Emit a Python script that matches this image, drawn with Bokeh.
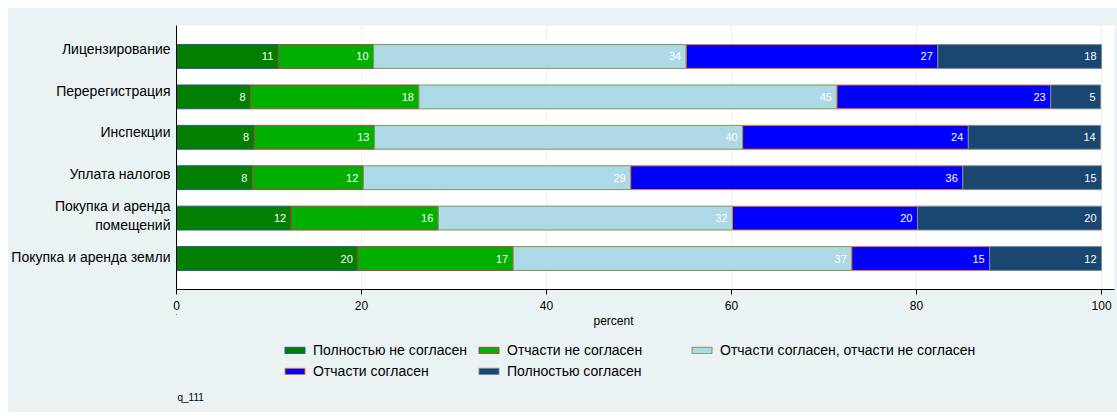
from bokeh.plotting import figure
from bokeh.layouts import column
from bokeh.models import Range1d, FixedTicker, Legend, LegendItem, ColumnDataSource, LinearAxis
from bokeh.core.properties import value
from bokeh.embed import file_html
from bokeh.resources import INLINE

categories = ["Лицензирование", "Перерегистрация", "Инспекции", "Уплата налогов",
              "Покупка и аренда\nпомещений", "Покупка и аренда земли"]
series_names = ["Полностью не согласен", "Отчасти не согласен",
                "Отчасти согласен, отчасти не согласен", "Отчасти согласен", "Полностью согласен"]
s1 = [11.0, 8.0, 8.4, 8.2, 12.4, 19.6]
s2 = [10.3, 18.2, 13.0, 12.0, 15.9, 16.8]
s3 = [33.8, 45.2, 39.8, 28.9, 31.8, 36.6]
s4 = [27.2, 23.1, 24.4, 35.9, 20.0, 14.9]
s5 = [17.7, 5.4, 14.3, 15.0, 19.9, 12.1]
x_ticks = [0, 20, 40, 60, 80, 100]
x_title = "percent"
note = "q_111"

series = [s1, s2, s3, s4, s5]
fills = ["#007f00", "#00b000", "#add8e6", "#0000ff", "#1a476f"]
lines = ["#2a5a80", "#b04040", "#7a9a50", "#e8801a", "#7a8a96"]

FONT = "Liberation Sans"
BG = "#eaf2f3"
FW, BL, BR = 938, 168, 3

# ---------------- main chart ----------------
p = figure(frame_width=FW, frame_height=264, x_range=Range1d(0, 101.4), y_range=Range1d(6.767, 0.233),
           output_backend="svg", toolbar_location=None,
           min_border_left=BL, min_border_right=BR, min_border_top=17, min_border_bottom=25,
           background_fill_color="white", border_fill_color=BG)
p.outline_line_color = None
# category labels sit on a slightly wider spacing than the bars (as in the original)
p.extra_y_ranges = {"lab": Range1d(6.783, 0.422)}

ypos = list(range(1, len(categories) + 1))
left = [0.0] * len(categories)
for vals, fc, lc in zip(series, fills, lines):
    right = [l + v for l, v in zip(left, vals)]
    src = ColumnDataSource(dict(y=ypos, left=left, right=right,
                                lab=[str(round(v)) for v in vals]))
    p.hbar(y="y", left="left", right="right", height=0.59, source=src,
           fill_color=fc, line_color=lc, line_width=1)
    p.text(x="right", y="y", text="lab", source=src, x_offset=-5,
           text_align="right", text_baseline="middle", text_color="white",
           text_font=value(FONT), text_font_size="11px")
    left = right

p.xaxis.ticker = FixedTicker(ticks=x_ticks)
p.xaxis.axis_line_color = "black"
p.xaxis.major_tick_out = 5
p.xaxis.major_tick_in = 0
p.xaxis.major_tick_line_color = "black"
p.xaxis.minor_tick_line_color = None
p.xaxis.major_label_text_font = FONT
p.xaxis.major_label_text_font_size = "12px"
p.xaxis.major_label_text_color = "black"
p.xaxis.major_label_standoff = 6

p.yaxis.visible = False
yax = LinearAxis(y_range_name="lab", ticker=FixedTicker(ticks=ypos),
                 major_label_overrides={i: c for i, c in zip(ypos, categories)},
                 axis_line_color="black", major_tick_line_color=None, minor_tick_line_color=None,
                 major_label_text_font=FONT, major_label_text_font_size="14px",
                 major_label_text_color="black", major_label_standoff=0)
p.add_layout(yax, "left")

p.ygrid.visible = False
p.xgrid.ticker = FixedTicker(ticks=x_ticks)
p.xgrid.grid_line_color = BG

# ---------------- footer: axis title, legend, note ----------------
H = 98
f = figure(frame_width=FW, frame_height=H, x_range=Range1d(0, FW), y_range=Range1d(H, 0),
           output_backend="svg", toolbar_location=None,
           min_border_left=BL, min_border_right=BR, min_border_top=0, min_border_bottom=0,
           background_fill_color=BG, background_fill_alpha=0, border_fill_color=BG)
f.outline_line_color = None
f.axis.visible = False
f.grid.visible = False

f.text(x=[437], y=[6], text=[x_title], text_align="center", text_baseline="middle",
       text_font=value(FONT), text_font_size="12px", text_color="black")
f.text(x=[1], y=[83], text=[note], text_align="left", text_baseline="middle",
       text_font=value(FONT), text_font_size="10px", text_color="black")

# legend proxies: one point placed well outside the visible frame
dummies = []
for fc, lc in zip(fills, lines):
    dummies.append(f.hbar(y=[-500], left=[-500], right=[-499], height=1,
                          fill_color=fc, line_color=lc, line_width=1))

def make_legend(idx, loc):
    return Legend(items=[LegendItem(label=series_names[i], renderers=[dummies[i]]) for i in idx],
                  location=loc, orientation="vertical",
                  background_fill_color=BG, background_fill_alpha=0, border_line_color=None,
                  padding=0, margin=0, spacing=0, label_standoff=6,
                  glyph_width=25, glyph_height=8, label_height=21,
                  label_text_font=FONT, label_text_font_size="14px", label_text_color="black")

f.add_layout(make_legend([0, 3], (106, 31)))
f.add_layout(make_legend([1, 4], (300, 31)))
f.add_layout(make_legend([2], (513, 52)))

layout = column(p, f, spacing=0, margin=(8, 0, 0, 8), styles={"background-color": BG})
open("out.html", "w").write(file_html(layout, INLINE))
